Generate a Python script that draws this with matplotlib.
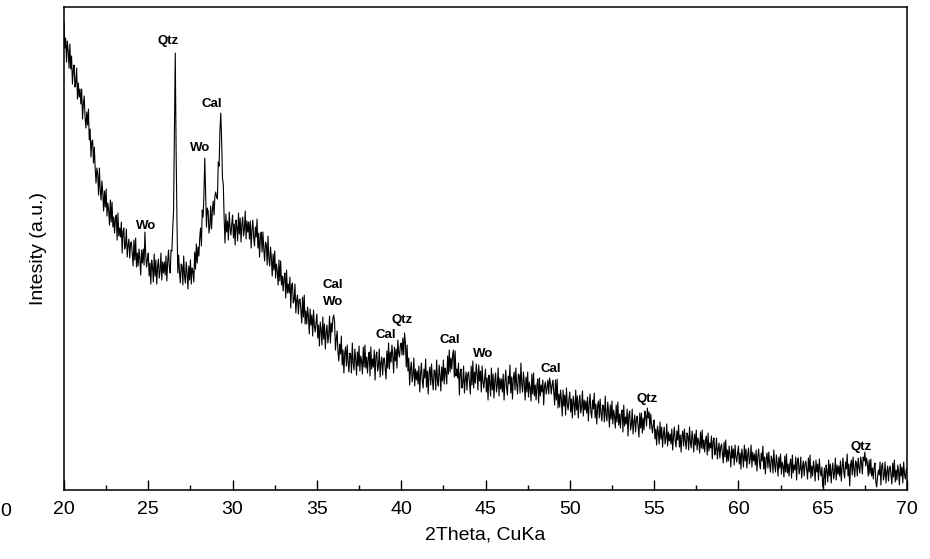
import numpy as np
import matplotlib
matplotlib.use("Agg")
import matplotlib.pyplot as plt
from matplotlib.ticker import MultipleLocator

plt.rcParams['font.family'] = ['Liberation Sans', 'DejaVu Sans']

# 2theta scan, 20-70 deg in 0.05 deg steps (one row per degree)
two_theta = np.round(np.arange(400, 1401) * 0.05, 2)

intensity = [
    468, 442, 452, 428, 449, 439, 422, 446, 421, 434, 406, 420, 425, 403, 407, 422, 391, 407, 393, 401,  # 20
    386, 401, 371, 386, 394, 373, 362, 378, 365, 381, 350, 361, 333, 349, 350, 327, 343, 322, 307, 322,  # 21
    316, 295, 322, 300, 290, 309, 297, 279, 299, 283, 301, 274, 287, 280, 265, 290, 268, 288, 263, 273,  # 22
    257, 271, 275, 250, 277, 254, 262, 253, 268, 237, 259, 262, 241, 245, 261, 233, 245, 251, 232, 247,  # 23
    248, 236, 224, 250, 230, 252, 223, 237, 224, 241, 231, 215, 240, 227, 241, 225, 258, 235, 223, 231,  # 24
    237, 214, 227, 206, 230, 223, 208, 236, 214, 230, 206, 223, 231, 212, 219, 237, 210, 228, 217, 228,  # 25
    215, 234, 209, 228, 240, 223, 217, 240, 239, 262, 280, 360, 437, 340, 270, 217, 235, 218, 207, 226,  # 26
    224, 205, 234, 214, 207, 228, 217, 201, 224, 210, 230, 206, 222, 219, 208, 238, 221, 246, 227, 243,  # 27
    234, 252, 262, 244, 280, 273, 295, 332, 298, 263, 282, 279, 257, 264, 284, 261, 279, 289, 275, 294,  # 28
    298, 293, 291, 328, 324, 360, 377, 349, 312, 305, 271, 247, 276, 258, 269, 250, 278, 262, 255, 266,  # 29
    275, 252, 266, 245, 270, 263, 249, 277, 256, 272, 248, 265, 273, 254, 261, 279, 251, 269, 258, 268,  # 30
    251, 269, 242, 260, 270, 252, 244, 263, 253, 271, 242, 257, 233, 253, 258, 238, 258, 241, 229, 248,  # 31
    246, 225, 254, 232, 224, 243, 232, 214, 236, 220, 239, 212, 226, 219, 205, 230, 209, 229, 205, 214,  # 32
    199, 212, 217, 192, 220, 197, 206, 197, 213, 182, 205, 207, 187, 190, 206, 177, 190, 195, 176, 190,  # 33
    191, 179, 167, 193, 173, 195, 166, 179, 166, 183, 173, 156, 181, 165, 175, 154, 180, 164, 158, 168,  # 34
    176, 152, 165, 144, 168, 160, 145, 173, 151, 166, 141, 158, 165, 147, 155, 174, 147, 167, 158, 172,  # 35
    175, 168, 140, 151, 159, 138, 129, 146, 136, 154, 125, 140, 117, 137, 143, 124, 145, 128, 118, 137,  # 36
    136, 117, 147, 127, 120, 141, 131, 115, 138, 124, 144, 119, 134, 129, 116, 143, 123, 145, 122, 133,  # 37
    117, 132, 138, 114, 143, 121, 131, 123, 140, 110, 134, 138, 119, 124, 141, 113, 127, 133, 115, 131,  # 38
    132, 121, 111, 139, 122, 147, 121, 138, 128, 145, 134, 117, 143, 129, 141, 122, 150, 137, 133, 145,  # 39
    147, 135, 152, 135, 157, 147, 123, 145, 119, 132, 105, 121, 128, 108, 115, 132, 104, 121, 110, 119,  # 40
    106, 124, 98, 116, 127, 109, 102, 121, 112, 131, 103, 119, 96, 117, 123, 105, 126, 110, 100, 120,    # 41
    119, 100, 130, 110, 104, 125, 115, 99, 123, 109, 130, 106, 122, 118, 106, 134, 116, 140, 118, 132,   # 42
    121, 135, 140, 113, 139, 114, 121, 112, 127, 95, 117, 121, 102, 107, 124, 97, 111, 118, 100, 116,    # 43
    118, 107, 96, 124, 105, 129, 102, 118, 107, 126, 117, 100, 125, 109, 119, 98, 124, 108, 102, 112,    # 44
    121, 98, 112, 90, 115, 108, 94, 122, 100, 116, 92, 109, 117, 98, 105, 122, 94, 112, 101, 111,        # 45
    98, 116, 90, 108, 120, 102, 95, 114, 106, 125, 97, 113, 91, 112, 118, 100, 122, 106, 96, 116,        # 46
    115, 97, 127, 106, 98, 118, 107, 90, 113, 98, 118, 93, 108, 102, 89, 116, 96, 117, 94, 105,          # 47
    90, 105, 111, 87, 112, 94, 105, 98, 110, 85, 104, 108, 96, 102, 110, 96, 112, 107, 96, 105,          # 48
    110, 97, 85, 110, 90, 111, 82, 96, 83, 100, 91, 74, 100, 84, 95, 75, 102, 86, 80, 91,                # 49
    98, 78, 91, 72, 94, 87, 75, 100, 80, 94, 72, 88, 95, 77, 83, 99, 74, 90, 80, 89,                     # 50
    77, 93, 69, 86, 96, 78, 72, 90, 81, 97, 72, 86, 66, 84, 89, 72, 91, 77, 69, 85,                      # 51
    84, 68, 94, 75, 69, 88, 78, 63, 85, 71, 89, 66, 80, 74, 62, 85, 68, 88, 65, 76,                      # 52
    62, 76, 80, 58, 85, 64, 73, 66, 81, 54, 75, 79, 60, 65, 81, 56, 68, 75, 58, 71,                      # 53
    74, 63, 53, 77, 62, 77, 57, 72, 60, 79, 74, 64, 82, 72, 78, 61, 76, 65, 57, 65,                      # 54
    70, 51, 61, 45, 64, 58, 46, 68, 51, 63, 43, 56, 63, 46, 52, 66, 44, 58, 49, 56,                      # 55
    46, 61, 40, 54, 63, 49, 43, 59, 50, 65, 43, 55, 38, 54, 59, 44, 61, 49, 41, 57,                      # 56
    54, 40, 63, 48, 42, 59, 51, 38, 56, 45, 60, 40, 52, 48, 37, 58, 42, 60, 41, 50,                      # 57
    38, 50, 54, 35, 57, 39, 47, 42, 54, 31, 49, 52, 35, 40, 52, 31, 41, 47, 32, 43,                      # 58
    46, 37, 27, 48, 33, 50, 28, 40, 29, 44, 36, 23, 44, 32, 41, 25, 45, 33, 28, 37,                      # 59
    44, 26, 37, 21, 41, 34, 23, 45, 29, 41, 22, 35, 42, 26, 31, 45, 23, 38, 29, 36,                      # 60
    25, 40, 19, 33, 41, 27, 21, 37, 29, 44, 21, 33, 16, 32, 37, 22, 38, 26, 18, 34,                      # 61
    31, 17, 40, 25, 18, 35, 27, 14, 33, 22, 36, 16, 28, 24, 13, 34, 18, 36, 17, 26,                      # 62
    14, 26, 31, 12, 35, 17, 25, 20, 33, 10, 29, 32, 16, 21, 33, 12, 23, 29, 14, 26,                      # 63
    29, 20, 11, 32, 18, 35, 12, 24, 14, 29, 22, 9, 30, 18, 26, 10, 31, 19, 14, 23,                       # 64
    3, 11, 22, 5, 25, 19, 8, 30, 14, 26, 7, 20, 27, 11, 17, 32, 10, 25, 16, 24,                          # 65
    14, 29, 9, 23, 32, 18, 12, 28, 21, 36, 14, 26, 4, 25, 30, 15, 33, 21, 13, 29,                        # 66
    27, 14, 32, 23, 17, 33, 28, 16, 33, 29, 38, 24, 32, 26, 14, 30, 16, 31, 14, 22,                      # 67
    11, 23, 27, 8, 3, 13, 20, 15, 28, 5, 24, 27, 10, 15, 28, 7, 18, 24, 9, 21,                           # 68
    24, 15, 6, 27, 13, 30, 8, 20, 10, 25, 18, 5, 26, 14, 23, 7, 28, 16, 11, 20,                          # 69
    22,                                                                                                  # 70
]

# phase labels: text, 2theta, height
phase_names = ["Qtz", "Cal", "Wo", "Wo", "Cal", "Wo", "Cal", "Qtz",
               "Cal", "Wo", "Cal", "Qtz", "Qtz"]
phase_pos = [26.15, 28.75, 28.1, 24.9, 35.95, 35.98, 39.1, 40.05,
             42.9, 44.85, 48.9, 54.6, 67.3]
phase_height = [449, 386, 342, 264, 205, 188, 155, 170,
                150, 136, 121, 91, 43]

fig = plt.figure(figsize=(9.3, 5.59), dpi=100)
ax = fig.add_axes([0.0688, 0.1234, 0.9065, 0.864])

ax.plot(two_theta, intensity, color="black", lw=0.8)

for name, x, y in zip(phase_names, phase_pos, phase_height):
    ax.text(x, y, name, ha="center", va="center", fontsize=9.5, fontweight="bold")

ax.set_xlim(20, 70)
ax.set_ylim(0, 483)
ax.xaxis.set_major_locator(MultipleLocator(5))
ax.xaxis.set_minor_locator(MultipleLocator(2.5))
ax.tick_params(axis="x", which="major", direction="in", length=7, width=1,
               labelsize=14, pad=8)
ax.tick_params(axis="x", which="minor", direction="in", length=3.5, width=1)
ax.set_yticks([])
for sp in ax.spines.values():
    sp.set_linewidth(1.1)

ax.set_xlabel("2Theta, CuKa", fontsize=14, labelpad=6)
ax.set_ylabel("Intesity (a.u.)", fontsize=14, labelpad=12)

# leftover tick label from the wider scan range
fig.text(0.0, 1 - 512 / 559, "0", ha="left", va="center", fontsize=14)

fig.savefig("out.png", dpi=100)
